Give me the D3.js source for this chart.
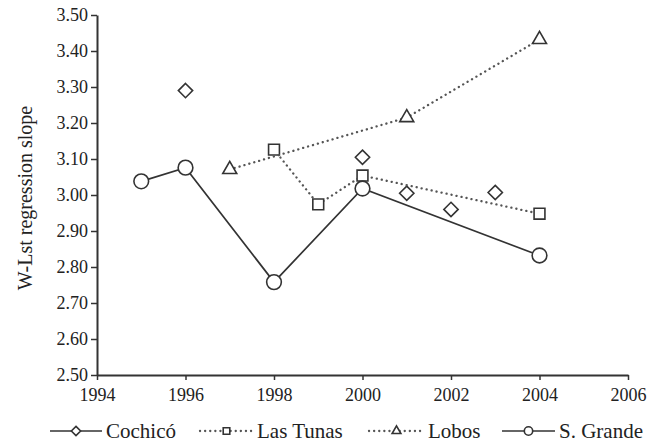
<!DOCTYPE html>
<html>
<head>
<meta charset="utf-8">
<script src="https://cdn.jsdelivr.net/npm/d3@7"></script>
<style>
  body { margin: 0; background: #fff; }
  text { font-family: "Liberation Serif", "Times New Roman", serif; fill: #222; }
</style>
</head>
<body>
<svg id="chart" width="657" height="444"></svg>
<script>
(function () {
    'use strict';

    // values
    var cochicoYears = [1996, 2000, 2001, 2002, 2003];
    var cochicoVals  = [3.29, 3.105, 3.005, 2.96, 3.007];
    var tunasYears = [1998, 1999, 2000, 2004];
    var tunasVals  = [3.126, 2.974, 3.054, 2.948];
    var lobosYears = [1997, 2001, 2004];
    var lobosVals  = [3.071, 3.215, 3.432];
    var grandeYears = [1995, 1996, 1998, 2000, 2004];
    var grandeVals  = [3.038, 3.076, 2.758, 3.018, 2.832];

    var xTicks = [1994, 1996, 1998, 2000, 2002, 2004, 2006];
    var yTicks = [2.5, 2.6, 2.7, 2.8, 2.9, 3.0, 3.1, 3.2, 3.3, 3.4, 3.5];

    var series = [
        {name: 'Cochicó', years: cochicoYears, vals: cochicoVals, shape: 'diamond', line: 'none'},
        {name: 'Las Tunas', years: tunasYears, vals: tunasVals, shape: 'square', line: 'dot'},
        {name: 'Lobos', years: lobosYears, vals: lobosVals, shape: 'triangle', line: 'dot'},
        {name: 'S. Grande', years: grandeYears, vals: grandeVals, shape: 'circle', line: 'solid'}
    ];

    var svg = d3.select('#chart');
    var x = d3.scaleLinear().domain([1994, 2006]).range([97, 628]);
    var y = d3.scaleLinear().domain([2.5, 3.5]).range([375, 15]);

    var ink = '#333';
    var serif = '"Liberation Serif", "Times New Roman", serif';

    // axes
    var gx = svg.append('g').attr('transform', 'translate(0,' + y(2.5) + ')')
        .call(d3.axisBottom(x).tickValues(xTicks).tickFormat(d3.format('d')).tickSize(5).tickSizeOuter(0));
    gx.select('.domain').attr('stroke', ink).attr('stroke-width', 2);
    gx.selectAll('.tick line').attr('stroke', ink).attr('stroke-width', 1.5);
    gx.selectAll('.tick text').attr('font-size', 18).attr('y', 20).attr('dy', '0.35em')
        .style('font-family', serif).attr('fill', '#222');

    var gy = svg.append('g').attr('transform', 'translate(' + x(1994) + ',0)')
        .call(d3.axisLeft(y).tickValues(yTicks).tickFormat(d3.format('.2f')).tickSize(6).tickSizeOuter(0));
    gy.select('.domain').attr('stroke', ink).attr('stroke-width', 2);
    gy.selectAll('.tick line').attr('stroke', ink).attr('stroke-width', 1.5);
    gy.selectAll('.tick text').attr('font-size', 18).attr('x', -9)
        .style('font-family', serif).attr('fill', '#222');

    svg.append('text')
        .attr('transform', 'translate(25,198) rotate(-90)')
        .attr('text-anchor', 'middle')
        .attr('dy', '0.35em')
        .attr('font-size', 20)
        .text('W-Lst regression slope');

    var shapeType = {
        diamond: d3.symbolDiamond2,
        square: d3.symbolSquare2,
        triangle: d3.symbolTriangle2,
        circle: d3.symbolCircle
    };
    var shapeSize = {diamond: 130, square: 150, triangle: 140, circle: 170};

    var line = d3.line().x(function (d) { return x(d[0]); }).y(function (d) { return y(d[1]); });

    function styleLine(sel, kind) {
        sel.attr('fill', 'none')
            .attr('stroke', kind === 'dot' ? '#555' : ink)
            .attr('stroke-width', kind === 'dot' ? 2.3 : 1.7)
            .attr('stroke-linecap', kind === 'dot' ? 'round' : 'butt')
            .attr('stroke-dasharray', kind === 'dot' ? '0.1,5' : null);
    }

    series.forEach(function (s) {
        var pts = d3.zip(s.years, s.vals);
        if (s.line !== 'none') {
            svg.append('path').attr('d', line(pts)).call(styleLine, s.line);
        }
        svg.selectAll(null).data(pts).enter().append('path')
            .attr('d', d3.symbol().type(shapeType[s.shape]).size(shapeSize[s.shape]))
            .attr('transform', function (d) { return 'translate(' + x(d[0]) + ',' + y(d[1]) + ')'; })
            .attr('fill', '#fff')
            .attr('stroke', ink)
            .attr('stroke-width', 1.6);
    });

    // legend
    var legendX = [50, 200, 369, 502];
    var legendW = [52, 53, 55, 53];
    var ly = 431;
    series.forEach(function (s, i) {
        var g = svg.append('g').attr('transform', 'translate(' + legendX[i] + ',' + ly + ')');
        var w = legendW[i];
        g.append('line').attr('x1', 0).attr('x2', w).attr('y1', 0).attr('y2', 0)
            .call(styleLine, s.line === 'none' ? 'solid' : s.line);
        g.append('path')
            .attr('d', d3.symbol().type(shapeType[s.shape]).size(55))
            .attr('transform', 'translate(' + (w / 2) + ',0)')
            .attr('fill', '#fff').attr('stroke', ink).attr('stroke-width', 1.6);
        g.append('text').attr('x', w + 4).attr('y', 0).attr('dy', '0.33em')
            .attr('font-size', 21).text(s.name);
    });
}());
</script>
</body>
</html>
